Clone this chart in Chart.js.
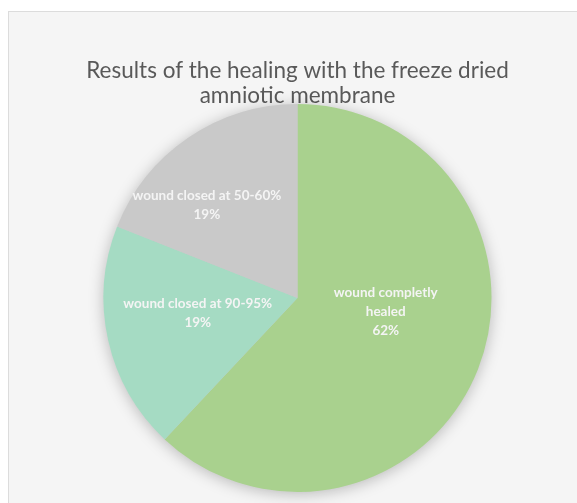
<!DOCTYPE html>
<html>
<head>
<meta charset="utf-8">
<script src="https://cdn.jsdelivr.net/npm/chart.js@4/dist/chart.umd.min.js"></script>
<style>
  html, body { margin: 0; padding: 0; background: #ffffff; }
  #frame {
    position: absolute; left: 8px; top: 11px; width: 568px; height: 491px;
    background: #f5f5f5; border: 1px solid #dcdcdc; border-right: none; border-bottom: none;
  }
  #frame canvas { display: block; }
</style>
</head>
<body>
<div id="frame"><canvas id="myChart" width="568" height="491"></canvas></div>
<script>
let titleLines = ['Results of the healing with the freeze dried', 'amniotic membrane'];
let categories = [['wound completly', 'healed'], ['wound closed at 90-95%'], ['wound closed at 50-60%']];
let percents = [62, 19, 19];
let sliceColors = ['#a9d18e', '#a5dbc3', '#c9c9c9'];

// where each label sits: angle shift from the slice middle (deg) and fraction of radius
let labelAngleShift = [-13, 4, -10];
let labelRadius = [0.46, 0.52, 0.67];

// soft shadow under the whole pie
const pieShadow = {
    id: 'pieShadow',
    beforeDatasetsDraw(chart) {
        let arc = chart.getDatasetMeta(0).data[0];
        if (!arc) return;
        let ctx = chart.ctx;
        ctx.save();
        ctx.shadowColor = 'rgba(0,0,0,0.28)';
        ctx.shadowBlur = 16;
        ctx.shadowOffsetY = 2;
        ctx.fillStyle = '#c9c9c9';
        ctx.beginPath();
        ctx.arc(arc.x, arc.y, arc.outerRadius - 1, 0, Math.PI * 2);
        ctx.fill();
        ctx.restore();
    }
};

// category name and percent written inside each slice
const sliceLabels = {
    id: 'sliceLabels',
    afterDatasetsDraw(chart) {
        let ctx = chart.ctx;
        ctx.save();
        ctx.fillStyle = '#f4f4f4';
        ctx.textAlign = 'center';
        ctx.textBaseline = 'middle';
        ctx.font = 'bold 13.5px Lato';
        chart.getDatasetMeta(0).data.forEach((arc, i) => {
            let mid = (arc.startAngle + arc.endAngle) / 2 + labelAngleShift[i] * Math.PI / 180;
            let r = arc.outerRadius * labelRadius[i];
            let x = arc.x + Math.cos(mid) * r;
            let y = arc.y + Math.sin(mid) * r;
            let lines = [...categories[i], percents[i] + '%'];
            let lh = 19;
            lines.forEach((t, k) => {
                ctx.fillText(t, x, y + (k - (lines.length - 1) / 2) * lh);
            });
        });
        ctx.restore();
    }
};

let ctx = document.querySelector('#myChart').getContext('2d');
let myChart = new Chart(ctx, {
    type: 'pie',
    data: {
        labels: categories.map(c => c.join(' ')),
        datasets: [{
            data: percents,
            backgroundColor: sliceColors,
            borderWidth: 0
        }]
    },
    options: {
        responsive: false,
        animation: false,
        layout: { padding: { left: 9, right: 0, top: 0, bottom: 11 } },
        plugins: {
            legend: { display: false },
            tooltip: { enabled: false },
            title: {
                display: true,
                text: titleLines,
                color: '#595959',
                font: { family: 'Lato', size: 22.5, weight: 'normal', lineHeight: 1.11 },
                padding: { top: 46, bottom: -4 }
            }
        }
    },
    plugins: [pieShadow, sliceLabels]
});
</script>
</body>
</html>
